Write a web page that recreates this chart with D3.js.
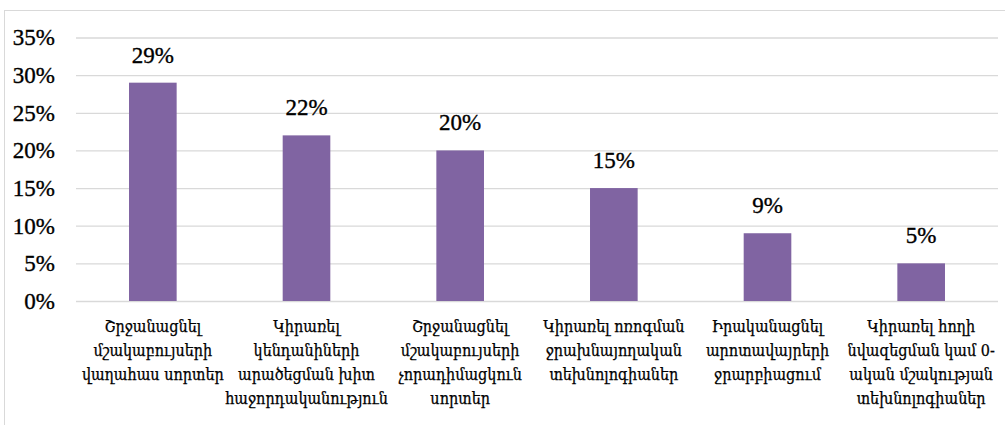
<!DOCTYPE html>
<html>
<head>
<meta charset="utf-8">
<script src="https://cdn.jsdelivr.net/npm/d3@7"></script>
<style>
  body { margin: 0; background: #fff; overflow: hidden; }
  svg { display: block; }
  .num { font-family: 'Liberation Serif', 'Times New Roman', serif; font-size: 23px; fill: #000; stroke: #000; stroke-width: 0.35px; }
  .cat { font-family: 'DejaVu Serif Condensed', 'DejaVu Serif', serif; font-size: 16px; fill: #000; stroke: #000; stroke-width: 0.25px; }
</style>
</head>
<body>
<div id="divChart"></div>
<script>
// categories, split on \n the same way the original wraps them
const categories = [
  "Շրջանացնել\nմշակաբույսերի\nվաղահաս սորտեր",
  "Կիրառել\nկենդանիների\nարածեցման խիտ\nհաջորդականություն",
  "Շրջանացնել\nմշակաբույսերի\nչորադիմացկուն\nսորտեր",
  "Կիրառել ոռոգման\nջրախնայողական\nտեխնոլոգիաներ",
  "Իրականացնել\nարոտավայրերի\nջրարբիացում",
  "Կիրառել հողի\nնվազեցման կամ 0-\nական մշակության\nտեխնոլոգիաներ"
];
const values = [0.29, 0.22, 0.20, 0.15, 0.09, 0.05];
const yTicks = [0, 0.05, 0.10, 0.15, 0.20, 0.25, 0.30, 0.35];

const width = 1005, height = 425;
const plotLeft = 76, plotRight = 998, plotTop = 37.5, plotBottom = 301;

const svg = d3.select("#divChart").append("svg")
  .attr("width", width).attr("height", height);

svg.append("rect")
  .attr("x", 4.5).attr("y", 10.5)
  .attr("width", 1005).attr("height", 430)
  .attr("fill", "#fff").attr("stroke", "#d9d9d9");

const x = d3.scaleBand().domain(d3.range(categories.length))
  .range([plotLeft, plotRight]).paddingInner(0.69).paddingOuter(0.345);
const y = d3.scaleLinear().domain([0, 0.35]).range([plotBottom, plotTop]);

const fmt = d3.format(".0%");

// gridlines + y labels
const yAxis = svg.append("g")
  .attr("transform", `translate(${plotLeft},0)`)
  .call(d3.axisLeft(y).tickValues(yTicks).tickFormat(fmt)
    .tickSize(-(plotRight - plotLeft)).tickPadding(21));
yAxis.select(".domain").remove();
yAxis.selectAll(".tick line").attr("stroke", "#d9d9d9").attr("stroke-width", 1.3);
yAxis.selectAll(".tick text").attr("class", "num").attr("fill", null);

// bars
svg.selectAll(".bar").data(values).enter()
  .append("rect")
  .attr("class", "bar")
  .attr("x", (d, i) => x(i))
  .attr("y", d => y(d))
  .attr("width", x.bandwidth())
  .attr("height", d => y(0) - y(d))
  .attr("fill", "#8064a2");

// value labels
svg.selectAll(".lbl").data(values).enter()
  .append("text")
  .attr("class", "num")
  .attr("x", (d, i) => x(i) + x.bandwidth() / 2)
  .attr("y", d => y(d) - 20)
  .attr("text-anchor", "middle")
  .text(d => fmt(d));

// category labels
const xAxis = svg.append("g")
  .attr("transform", `translate(0,${plotBottom})`)
  .call(d3.axisBottom(x).tickSize(0).tickFormat(""));
xAxis.select(".domain").remove();

xAxis.selectAll(".tick").each(function (d) {
  const t = d3.select(this).append("text")
    .attr("class", "cat")
    .attr("text-anchor", "middle");
  categories[d].split("\n").forEach((line, k) => {
    t.append("tspan").attr("x", 0).attr("y", 31 + k * 24).text(line);
  });
});
</script>
</body>
</html>
